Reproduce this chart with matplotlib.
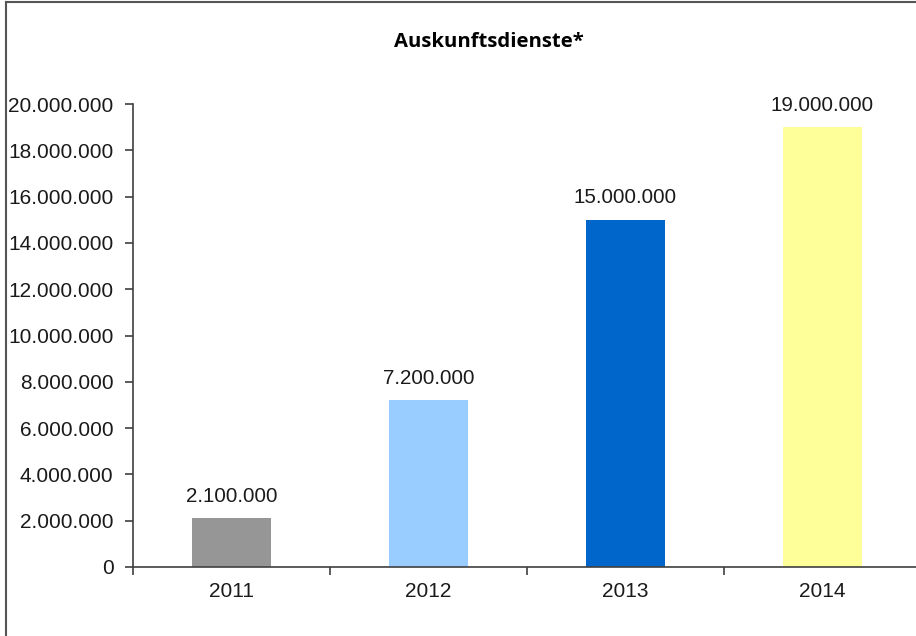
import matplotlib.pyplot as plt
from matplotlib.lines import Line2D
from matplotlib.ticker import FuncFormatter, FixedLocator

years = ['2011', '2012', '2013', '2014']
values = [2100000, 7200000, 15000000, 19000000]
colors = ['#969696', '#99ccff', '#0066cc', '#ffff99']


def dots(v, pos=None):
    return f'{int(v):,}'.replace(',', '.')


plt.rcParams['font.family'] = ['Liberation Sans', 'DejaVu Sans']

fig = plt.figure(figsize=(9.16, 6.36), dpi=100)
ax = fig.add_axes([133 / 916, 69 / 636, 788 / 916, 463 / 636])

x = range(len(years))
bars = ax.bar(x, values, width=0.4, color=colors)

for b, v in zip(bars, values):
    ax.annotate(dots(v), (b.get_x() + b.get_width() / 2, v), xytext=(0, 9),
                textcoords='offset points', ha='center', va='bottom',
                fontsize=14.8, color='#1a1a1a')

ax.set_xlim(-0.5, len(years) - 0.5)
ax.set_ylim(0, 20000000)
ax.yaxis.set_major_locator(FixedLocator(range(0, 20000001, 2000000)))
ax.yaxis.set_major_formatter(FuncFormatter(dots))

ax.set_xticks(list(x))
ax.set_xticklabels(years)
ax.xaxis.set_minor_locator(FixedLocator([i - 0.5 for i in range(len(years) + 1)]))
ax.tick_params(axis='x', which='major', length=0, pad=11, labelsize=15, labelcolor='#1a1a1a')
ax.tick_params(axis='x', which='minor', length=6, width=1.2, color='#404040', direction='out')
ax.tick_params(axis='y', length=6, width=1.2, color='#404040', pad=8,
               labelsize=15, labelcolor='#1a1a1a')

for s in ['top', 'right']:
    ax.spines[s].set_visible(False)
for s in ['left', 'bottom']:
    ax.spines[s].set_color('#404040')
    ax.spines[s].set_linewidth(1.2)

fig.text(489 / 916, 1 - 42 / 636, 'Auskunftsdienste*', ha='center', va='center',
         fontsize=14.6, fontweight='bold', family=['Open Sans', 'DejaVu Sans'])

# Rahmen um das Diagramm
fig.add_artist(Line2D([5.5 / 916, 5.5 / 916], [0, 1 - 1.5 / 636], color='#555555', lw=1.5))
fig.add_artist(Line2D([5.5 / 916, 1], [1 - 1.5 / 636, 1 - 1.5 / 636], color='#555555', lw=1.5))

fig.savefig('out.png', dpi=100)
